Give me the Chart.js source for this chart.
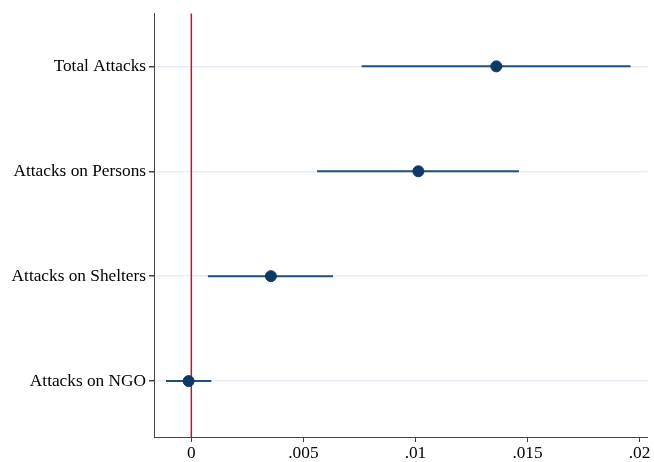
<!DOCTYPE html>
<html><head><meta charset="utf-8">
<script src="https://cdn.jsdelivr.net/npm/chart.js@4"></script>
<style>html,body{margin:0;padding:0;background:#fff}#wrap{width:654px;height:462px}</style>
</head><body><div id="wrap"><canvas id="c" width="654" height="462"></canvas></div>
<script>
const categories = ["Total Attacks", "Attacks on Persons", "Attacks on Shelters", "Attacks on NGO"];
const estimates = [0.01361, 0.01013, 0.00355, -0.00012];
const ciLow = [0.0076, 0.00561, 0.00074, -0.00113];
const ciHigh = [0.0196, 0.01462, 0.00632, 0.00089];
const xTicks = [0, 0.005, 0.01, 0.015, 0.02];
const xTickLabels = ["0", ".005", ".01", ".015", ".02"];
const refLine = 0;

const FONT = {family: "'Liberation Serif', 'Times New Roman', serif", size: 17.3};
const datasets = [];
categories.forEach((c, i) => {
  datasets.push({
    type: 'line', data: [{x: ciLow[i], y: i + 1}, {x: ciHigh[i], y: i + 1}],
    borderColor: '#1f4f7d', borderWidth: 2, pointRadius: 0, showLine: true, order: 2
  });
});
datasets.push({
  type: 'line', data: [{x: refLine, y: 0}, {x: refLine, y: 5}],
  borderColor: '#c8102e', borderWidth: 1.5, pointRadius: 0, showLine: true, order: 3
});
datasets.push({
  type: 'scatter', data: estimates.map((v, i) => ({x: v, y: i + 1})),
  backgroundColor: '#0b3a66', borderColor: '#0b3a66', pointRadius: 5.5, order: 1
});

new Chart(document.getElementById('c'), {
  type: 'scatter',
  data: {datasets},
  options: {
    responsive: false, animation: false, events: [],
    layout: {padding: {top: 13, right: 3, left: 0, bottom: 0}},
    plugins: {legend: {display: false}, tooltip: {enabled: false}},
    scales: {
      x: {
        type: 'linear', min: -0.001666, max: 0.020354,
        afterBuildTicks: s => { s.ticks = xTicks.map(v => ({value: v})); },
        afterFit: s => { s.height = 25; },
        ticks: {font: FONT, color: '#000', padding: 1, maxRotation: 0,
          callback: (v) => { const k = xTicks.indexOf(v); return k >= 0 ? xTickLabels[k] : ''; }},
        grid: {drawOnChartArea: false, drawTicks: true, tickLength: 5, tickColor: '#444'},
        border: {color: '#444', width: 1}
      },
      y: {
        type: 'linear', reverse: true, min: 0.495, max: 4.533,
        afterBuildTicks: s => { s.ticks = categories.map((c, i) => ({value: i + 1})); },
        afterFit: s => { s.width = 154; },
        ticks: {font: FONT, color: '#000', padding: 3,
          callback: (v) => categories[v - 1] || ''},
        grid: {color: '#e6edf4', lineWidth: 1.5, drawTicks: true, tickLength: 5, tickColor: '#444'},
        border: {color: '#444', width: 1}
      }
    }
  }
});
</script></body></html>
